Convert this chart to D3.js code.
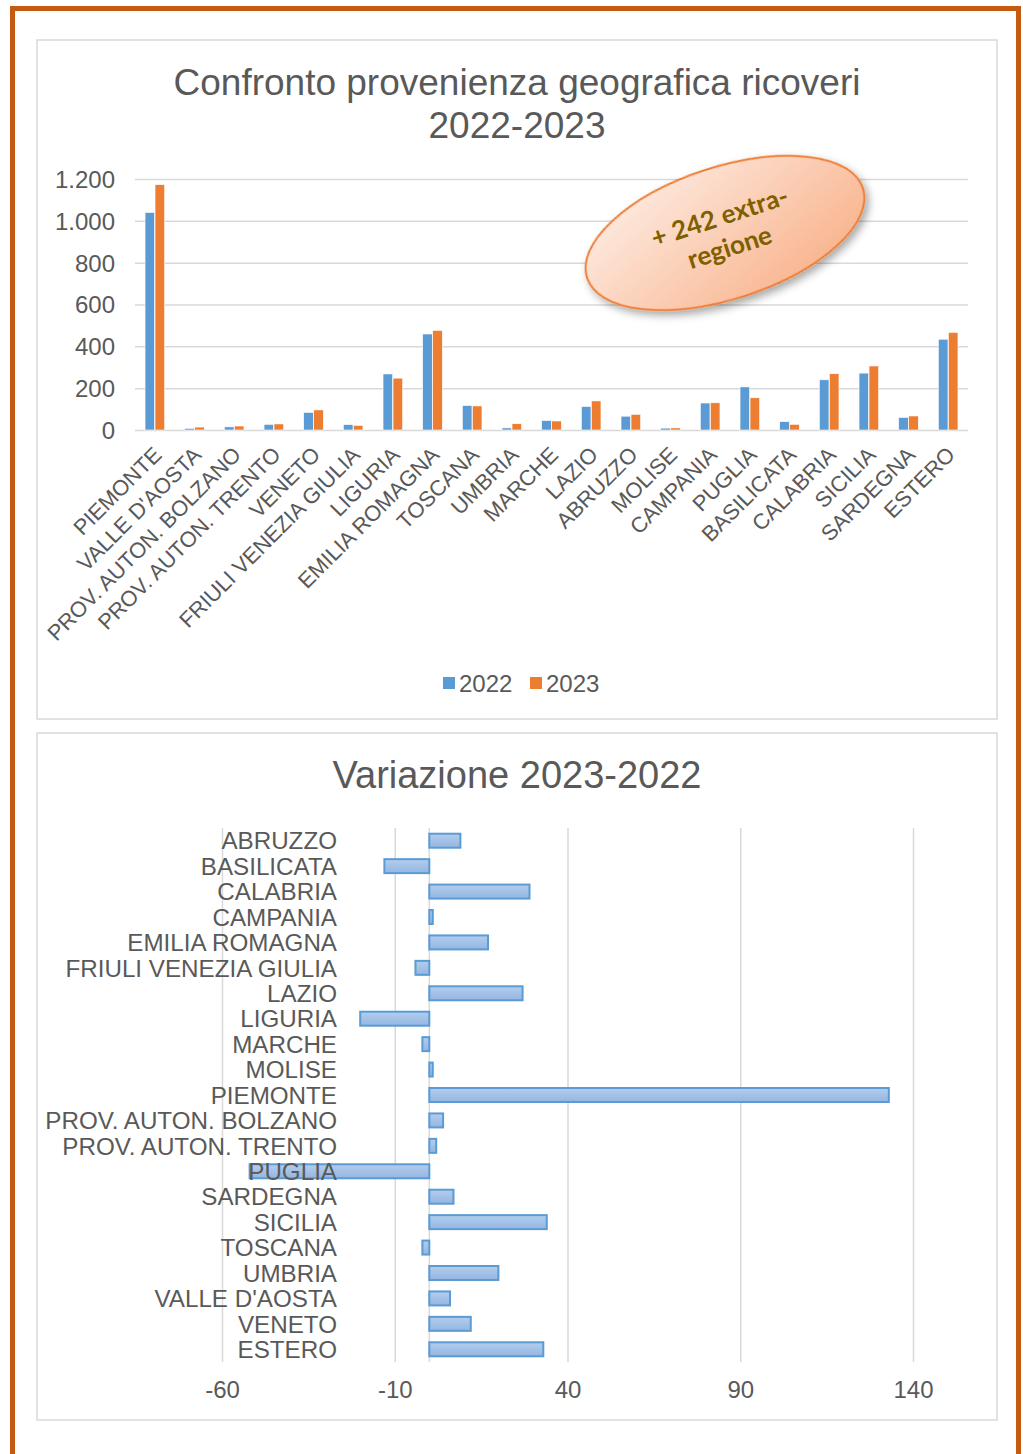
<!DOCTYPE html>
<html>
<head>
<meta charset="utf-8">
<script src="https://cdn.jsdelivr.net/npm/d3@7"></script>
<style>
  body { margin: 0; background: #fff; }
  svg text { font-family: "Liberation Sans", Arial, sans-serif; fill: #595959; }
  .grid line { stroke: #d9d9d9; stroke-width: 1.5; }
</style>
</head>
<body>
<svg id="chart" width="1023" height="1454"></svg>
<script>
// dati: ricoveri per provenienza
const regions = ["PIEMONTE", "VALLE D'AOSTA", "PROV. AUTON. BOLZANO", "PROV. AUTON. TRENTO", "VENETO",
  "FRIULI VENEZIA GIULIA", "LIGURIA", "EMILIA ROMAGNA", "TOSCANA", "UMBRIA", "MARCHE", "LAZIO",
  "ABRUZZO", "MOLISE", "CAMPANIA", "PUGLIA", "BASILICATA", "CALABRIA", "SICILIA", "SARDEGNA", "ESTERO"];
const values2022 = [1040, 8, 15, 27, 84, 26, 268, 459, 117, 10, 45, 112, 66, 9, 129, 206, 40, 240, 272, 60, 434];
const values2023 = [1173, 14, 19, 29, 96, 22, 248, 476, 115, 30, 43, 139, 75, 10, 130, 154, 27, 269, 306, 67, 467];
const yTicks = [0, 200, 400, 600, 800, 1000, 1200];
const seriesNames = ["2022", "2023"];

// variazione 2023-2022
const varRegions = ["ABRUZZO", "BASILICATA", "CALABRIA", "CAMPANIA", "EMILIA ROMAGNA", "FRIULI VENEZIA GIULIA",
  "LAZIO", "LIGURIA", "MARCHE", "MOLISE", "PIEMONTE", "PROV. AUTON. BOLZANO", "PROV. AUTON. TRENTO",
  "PUGLIA", "SARDEGNA", "SICILIA", "TOSCANA", "UMBRIA", "VALLE D'AOSTA", "VENETO", "ESTERO"];
const varValues = [9, -13, 29, 1, 17, -4, 27, -20, -2, 1, 133, 4, 2, -52, 7, 34, -2, 20, 6, 12, 33];
const xTicksVar = [-60, -10, 40, 90, 140];

const BLUE = "#5b9bd5";
const ORANGE = "#ed7d31";
const itFmt = v => d3.format(",")(v).replace(/,/g, ".");

const svg = d3.select("#chart");

// defs
const defs = svg.append("defs");
const eg = defs.append("linearGradient").attr("id", "ellGrad")
  .attr("x1", "0").attr("y1", "0").attr("x2", "1").attr("y2", "1");
eg.append("stop").attr("offset", "0").attr("stop-color", "#fef0e8");
eg.append("stop").attr("offset", "1").attr("stop-color", "#f8ad84");
const bg = defs.append("linearGradient").attr("id", "barGrad")
  .attr("x1", "0").attr("y1", "0").attr("x2", "0").attr("y2", "1");
bg.append("stop").attr("offset", "0").attr("stop-color", "#b4cdec");
bg.append("stop").attr("offset", "1").attr("stop-color", "#94b6e2");
const sh = defs.append("filter").attr("id", "shadow").attr("x", "-20%").attr("y", "-20%")
  .attr("width", "150%").attr("height", "160%");
sh.append("feDropShadow").attr("dx", 2).attr("dy", 5).attr("stdDeviation", 4)
  .attr("flood-color", "#000").attr("flood-opacity", 0.35);

// cornice arancio
svg.append("rect")
  .attr("x", 12.5).attr("y", 8.5).attr("width", 1006).attr("height", 1500)
  .attr("fill", "none").attr("stroke", "#c55a11").attr("stroke-width", 5);

// box grafici
[[37, 40, 960, 679], [37, 733, 960, 687]].forEach(b => {
  svg.append("rect")
    .attr("x", b[0]).attr("y", b[1]).attr("width", b[2]).attr("height", b[3])
    .attr("fill", "#fff").attr("stroke", "#d9d9d9").attr("stroke-width", 1.5);
});

////////////////////////////////////////////////////////////
// grafico 1: confronto
////////////////////////////////////////////////////////////
const t1 = svg.append("text").attr("x", 517).attr("text-anchor", "middle")
  .style("font-size", "37px");
t1.append("tspan").attr("x", 517).attr("y", 95).text("Confronto provenienza geografica ricoveri");
t1.append("tspan").attr("x", 517).attr("y", 138).text("2022-2023");

const x0 = d3.scaleBand().domain(regions).range([135, 968]);
const x1 = d3.scaleBand().domain(seriesNames).range([0, 19.6]).paddingInner(0.04);
const y = d3.scaleLinear().domain([0, 1200]).range([430, 179]);
const bandOff = (x0.bandwidth() - 19.6) / 2;

svg.append("g").attr("class", "grid")
  .attr("transform", "translate(135,0)")
  .call(d3.axisLeft(y).tickValues(yTicks).tickSize(-833).tickFormat(""))
  .call(g => g.select(".domain").remove());

svg.append("g")
  .attr("transform", "translate(118,0)")
  .call(d3.axisLeft(y).tickValues(yTicks).tickSize(0).tickFormat(itFmt))
  .call(g => g.select(".domain").remove())
  .call(g => g.selectAll("text").style("font-size", "24px").attr("dy", "0.35em"));

const series = [values2022, values2023];
const colors = [BLUE, ORANGE];
series.forEach((vals, si) => {
  svg.append("g").selectAll("rect")
    .data(regions)
    .join("rect")
    .attr("x", (d) => x0(d) + bandOff + x1(seriesNames[si]))
    .attr("y", (d, i) => y(vals[i]))
    .attr("width", x1.bandwidth())
    .attr("height", (d, i) => y(0) - y(vals[i]))
    .attr("fill", colors[si])
    .attr("stroke", "#fff").attr("stroke-width", 0.6);
});

// etichette categorie ruotate
svg.append("g").selectAll("text")
  .data(regions)
  .join("text")
  .attr("transform", d => `translate(${x0(d) + x0.bandwidth() / 2 - 3},445) rotate(-45)`)
  .attr("text-anchor", "end")
  .attr("dy", "0.72em")
  .style("font-size", "21.8px")
  .text(d => d);

// legenda
const leg = svg.append("g");
[[443, "2022", BLUE], [530, "2023", ORANGE]].forEach(l => {
  leg.append("rect").attr("x", l[0]).attr("y", 677).attr("width", 12).attr("height", 12).attr("fill", l[2]);
  leg.append("text").attr("x", l[0] + 16).attr("y", 683).attr("dy", "0.36em")
    .style("font-size", "24px").text(l[1]);
});

// nota ellisse
const note = svg.append("g").attr("transform", "translate(725,233) rotate(-18)");
note.append("ellipse").attr("rx", 145).attr("ry", 66)
  .attr("fill", "url(#ellGrad)").attr("stroke", ORANGE).attr("stroke-width", 2)
  .attr("filter", "url(#shadow)");
note.append("text").attr("text-anchor", "middle").attr("y", -8)
  .style("font-family", "Lato, 'Open Sans', sans-serif").style("font-weight", "bold")
  .style("font-size", "26px").style("fill", "#7f6000")
  .text("+ 242 extra-");
note.append("text").attr("text-anchor", "middle").attr("y", 24)
  .style("font-family", "Lato, 'Open Sans', sans-serif").style("font-weight", "bold")
  .style("font-size", "26px").style("fill", "#7f6000")
  .text("regione");

////////////////////////////////////////////////////////////
// grafico 2: variazione
////////////////////////////////////////////////////////////
svg.append("text").attr("x", 517).attr("y", 788).attr("text-anchor", "middle")
  .style("font-size", "38px").text("Variazione 2023-2022");

const xv = d3.scaleLinear().domain([-60, 140]).range([222, 913]);
const yv = d3.scaleBand().domain(varRegions).range([828, 1362]).paddingInner(0.45).paddingOuter(0.225);

svg.append("g").attr("class", "grid")
  .attr("transform", "translate(0,1362)")
  .call(d3.axisBottom(xv).tickValues(xTicksVar).tickSize(-534).tickFormat(""))
  .call(g => g.select(".domain").remove());

svg.append("line")
  .attr("x1", xv(0)).attr("x2", xv(0)).attr("y1", 828).attr("y2", 1362)
  .attr("stroke", "#d9d9d9").attr("stroke-width", 1.5);

svg.append("g")
  .attr("transform", "translate(0,1378)")
  .call(d3.axisBottom(xv).tickValues(xTicksVar).tickSize(0).tickFormat(d => String(d)))
  .call(g => g.select(".domain").remove())
  .call(g => g.selectAll("text").style("font-size", "24px").attr("dy", "0.71em"));

svg.append("g").selectAll("rect")
  .data(varRegions)
  .join("rect")
  .attr("x", (d, i) => xv(Math.min(0, varValues[i])))
  .attr("y", d => yv(d))
  .attr("width", (d, i) => Math.abs(xv(varValues[i]) - xv(0)))
  .attr("height", yv.bandwidth())
  .attr("fill", "url(#barGrad)")
  .attr("stroke", BLUE).attr("stroke-width", 2);

svg.append("g").selectAll("text")
  .data(varRegions)
  .join("text")
  .attr("x", 337)
  .attr("y", d => yv(d) + yv.bandwidth() / 2)
  .attr("dy", "0.36em")
  .attr("text-anchor", "end")
  .style("font-size", "24.2px")
  .text(d => d);
</script>
</body>
</html>
